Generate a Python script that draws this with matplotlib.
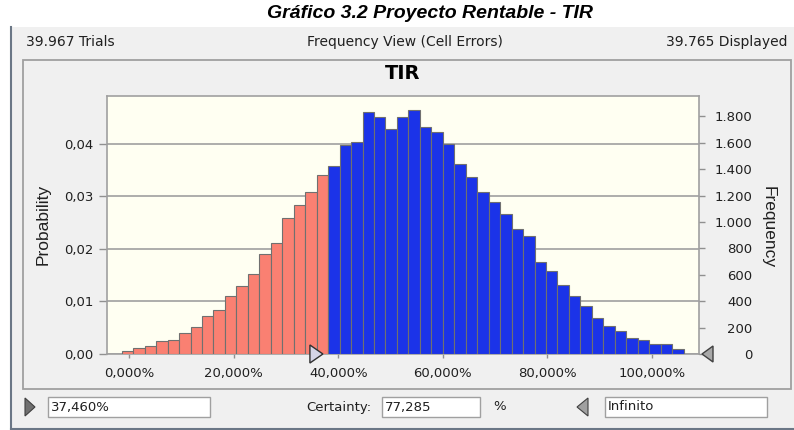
import matplotlib
matplotlib.use("Agg")
import matplotlib.pyplot as plt
from matplotlib.patches import Rectangle, Polygon
from matplotlib.ticker import FuncFormatter
from matplotlib.transforms import blended_transform_factory

# ---- forecast data: TIR (internal rate of return), frequency view ----
bin_start = -1.45          # left edge of first bin, in %
bin_width = 2.195          # bin width, in %
probabilities = [
    0.00063, 0.00108, 0.00158, 0.00241, 0.00260, 0.00399, 0.00507, 0.00729,
    0.00843, 0.01109, 0.01287, 0.01528, 0.01908, 0.02105, 0.02586, 0.02834,
    0.03094, 0.03410,
    0.03582, 0.03981, 0.04044, 0.04615, 0.04507, 0.04285, 0.04507, 0.04647,
    0.04330, 0.04222, 0.03994, 0.03620, 0.03379, 0.03094, 0.02891, 0.02669,
    0.02384, 0.02250, 0.01743, 0.01572, 0.01319, 0.01097, 0.00906, 0.00685,
    0.00526, 0.00431, 0.00304, 0.00260, 0.00190, 0.00190, 0.00101,
]
trials = 39967
displayed = 39765
lower_limit = 37.460       # certainty range lower bound, %
certainty = 77.285         # %
upper_limit_label = "Infinito"
x_ticks = [0, 20, 40, 60, 80, 100]
prob_ticks = [0.00, 0.01, 0.02, 0.03, 0.04]
freq_ticks = [0, 200, 400, 600, 800, 1000, 1200, 1400, 1600, 1800]

W, H = 794, 430
plt.rcParams["font.family"] = ["DejaVu Sans"]
fig = plt.figure(figsize=(W / 100, H / 100), dpi=100, facecolor="white")


def fx(x):
    return x / W


def fy(y):
    return 1 - y / H


def rect_px(x0, y0, x1, y1, **kw):
    fig.patches.append(Rectangle((fx(x0), fy(y1)), fx(x1) - fx(x0), fy(y0) - fy(y1),
                                 transform=fig.transFigure, figure=fig, **kw))


def poly_px(pts, **kw):
    fig.patches.append(Polygon([(fx(a), fy(b)) for a, b in pts], closed=True,
                               transform=fig.transFigure, figure=fig, **kw))


# window background and frame
rect_px(11, 27, 794, 429, facecolor="#F0F0F0", edgecolor="none", zorder=-5)
fig.add_artist(plt.Line2D([fx(11), fx(11)], [fy(27), fy(430)], color="#6B7786", lw=1.5))
fig.add_artist(plt.Line2D([fx(11), fx(794)], [fy(429), fy(429)], color="#6B7786", lw=1.5))
# chart panel
rect_px(23, 60, 791, 389, facecolor="none", edgecolor="#A0A0A0", lw=1.3, zorder=-4)

# caption and header
fig.text(fx(430), fy(13), "Gráfico 3.2 Proyecto Rentable - TIR", ha="center", va="center",
         fontsize=14, fontweight="bold", fontstyle="italic", family="Liberation Sans")
fig.text(fx(26), fy(42), f"{trials:,}".replace(",", ".") + " Trials", ha="left",
         va="center", fontsize=10, color="#202020")
fig.text(fx(405), fy(42), "Frequency View (Cell Errors)", ha="center", va="center",
         fontsize=10, color="#202020")
fig.text(fx(787), fy(42), f"{displayed:,}".replace(",", ".") + " Displayed", ha="right",
         va="center", fontsize=10, color="#202020")

# main axes
ax = fig.add_axes([fx(107), fy(354), fx(699) - fx(107), fy(96) - fy(354)])
ax.set_facecolor("#FFFFF2")
ymax = 0.04914
xlim = (-4.27, 109.05)

lefts = [bin_start + i * bin_width for i in range(len(probabilities))]
colors = ["#FA8072" if l < lower_limit else "#1B33E8" for l in lefts]
ax.bar(lefts, probabilities, width=bin_width, align="edge", color=colors,
       edgecolor="#707070", linewidth=0.8, zorder=3)

ax.set_xlim(*xlim)
ax.set_ylim(0, ymax)
ax.set_xticks(x_ticks)
ax.xaxis.set_major_formatter(FuncFormatter(lambda v, p: f"{v:.3f}%".replace(".", ",")))
ax.set_yticks(prob_ticks)
ax.yaxis.set_major_formatter(FuncFormatter(lambda v, p: f"{v:.2f}".replace(".", ",")))
ax.grid(axis="y", color="#A0A0A0", lw=1.2, zorder=1)
ax.set_axisbelow(True)
for s in ax.spines.values():
    s.set_color("#A0A0A0")
    s.set_linewidth(1.2)
ax.tick_params(axis="x", length=3, width=1, color="#909090", pad=6,
               labelsize=9.5, labelcolor="#202020")
ax.tick_params(axis="y", length=5.5, width=1, color="#909090", pad=4,
               labelsize=9.5, labelcolor="#202020")
ax.set_title("TIR", fontsize=14, fontweight="bold", pad=12)

# frequency axis
ax2 = ax.twinx()
ax2.set_ylim(0, ymax * displayed)
ax2.set_yticks(freq_ticks)
ax2.yaxis.set_major_formatter(FuncFormatter(lambda v, p: f"{int(v):,}".replace(",", ".")))
ax2.tick_params(axis="y", length=4.5, width=1, color="#909090", pad=34,
                labelsize=9.5, labelcolor="#202020")
for t in ax2.get_yticklabels():
    t.set_horizontalalignment("right")
for s in ax2.spines.values():
    s.set_visible(False)

fig.text(fx(43), fy(224), "Probability", rotation=90, ha="center", va="center",
         fontsize=12.5, family="Liberation Sans", color="#202020")
fig.text(fx(768), fy(227), "Frequency", rotation=-90, ha="center", va="center",
         fontsize=12.5, family="Liberation Sans", color="#202020")

# certainty grabbers
tr = blended_transform_factory(ax.transData, ax.transAxes)
dx = 13 / ((699 - 107) / (xlim[1] - xlim[0]))
ax.add_patch(Polygon([(lower_limit - 0.4 - dx, 0.035), (lower_limit - 0.4, 0.0),
                      (lower_limit - 0.4 - dx, -0.035)], closed=True, transform=tr,
                     facecolor="#D4D4E6", edgecolor="#303030", lw=1, clip_on=False, zorder=6))
poly_px([(702, 354), (713, 346), (713, 362)], facecolor="#A8A8A8", edgecolor="#404040", lw=1)

# bottom controls
poly_px([(25, 398), (35, 407), (25, 416)], facecolor="#707070", edgecolor="#404040", lw=0.8)
rect_px(48, 397, 210, 417, facecolor="white", edgecolor="#A0A0A0", lw=1)
fig.text(fx(51), fy(407), f"{lower_limit:.3f}%".replace(".", ","), ha="left", va="center",
         fontsize=9.5, color="#202020")
fig.text(fx(371), fy(407), "Certainty:", ha="right", va="center", fontsize=9.5, color="#202020")
rect_px(382, 397, 480, 417, facecolor="white", edgecolor="#A0A0A0", lw=1)
fig.text(fx(385), fy(407), f"{certainty:.3f}".replace(".", ","), ha="left", va="center",
         fontsize=9.5, color="#202020")
fig.text(fx(493), fy(407), "%", ha="left", va="center", fontsize=9.5, color="#202020")
poly_px([(577, 407), (588, 398), (588, 416)], facecolor="#A0A0A0", edgecolor="#404040", lw=0.8)
rect_px(605, 397, 767, 417, facecolor="white", edgecolor="#A0A0A0", lw=1)
fig.text(fx(608), fy(407), upper_limit_label, ha="left", va="center", fontsize=9.5,
         color="#202020")

fig.savefig("out.png", dpi=100, facecolor=fig.get_facecolor())
